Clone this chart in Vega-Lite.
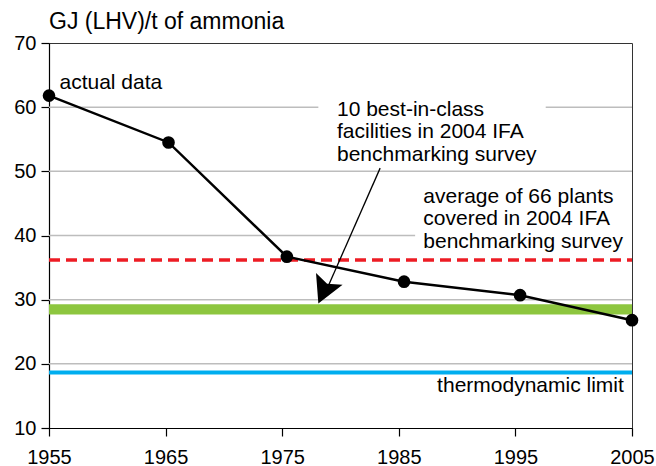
{
  "$schema": "https://vega.github.io/schema/vega-lite/v6.json",
  "width": 583,
  "height": 385,
  "autosize": {"type": "none"},
  "padding": {"left": 49, "top": 43, "right": 24, "bottom": 38},
  "title": {"text": "GJ (LHV)/t of ammonia", "anchor": "start", "frame": "group", "fontSize": 23, "fontWeight": "normal", "font": "Liberation Sans", "color": "#000000", "offset": -1},
  "config": {
    "view": {"stroke": "#333333", "strokeWidth": 1},
    "font": "Liberation Sans",
    "axis": {"labelFont": "Liberation Sans", "labelFontSize": 20, "labelColor": "#000000", "domainColor": "#000000", "tickColor": "#000000", "tickSize": 8, "grid": false, "title": null, "domainWidth": 1.2, "tickWidth": 1.2}
  },
  "datasets": {
    "series": [
      {"year": 1955, "value": 61.8},
      {"year": 1965.25, "value": 54.5},
      {"year": 1975.4, "value": 36.7},
      {"year": 1985.45, "value": 32.8},
      {"year": 1995.4, "value": 30.7},
      {"year": 2005, "value": 26.8}
    ],
    "grid": [
      {"y": 60, "from": 1955, "to": 1978.1},
      {"y": 60, "from": 1997.6, "to": 2005},
      {"y": 50, "from": 1955, "to": 2005},
      {"y": 40, "from": 1955, "to": 1986.4},
      {"y": 30, "from": 1955, "to": 2005},
      {"y": 20, "from": 1955, "to": 2005}
    ],
    "refs": [
      {"name": "average", "value": 36.2, "from": 1955, "to": 2005},
      {"name": "limit", "value": 18.65, "from": 1955, "to": 2005}
    ],
    "band": [
      {"name": "best", "low": 27.7, "high": 29.3, "from": 1955, "to": 2005}
    ],
    "arrow": [
      {"x1": 1983.4, "y1": 50.5, "x2": 1978.8, "y2": 31.5, "tipx": 1978.1, "tipy": 29.4}
    ],
    "labels": [
      {"x": 1955.9, "y": 63.8, "text": "actual data"},
      {"x": 1979.7, "y": 59.6, "text": "10 best-in-class"},
      {"x": 1979.7, "y": 56.1, "text": "facilities in 2004 IFA"},
      {"x": 1979.7, "y": 52.6, "text": "benchmarking survey"},
      {"x": 1987.1, "y": 46.0, "text": "average of 66 plants"},
      {"x": 1987.1, "y": 42.5, "text": "covered in 2004 IFA"},
      {"x": 1987.1, "y": 39.0, "text": "benchmarking survey"}
    ],
    "rightLabels": [
      {"x": 2004.3, "y": 16.5, "text": "thermodynamic limit"}
    ]
  },
  "layer": [
    {
      "data": {"name": "grid"},
      "mark": {"type": "rule", "color": "#bdbdbd", "strokeWidth": 1.5},
      "encoding": {
        "x": {"field": "from", "type": "quantitative", "scale": {"domain": [1955, 2005], "nice": false, "zero": false}, "axis": {"values": [1955, 1965, 1975, 1985, 1995, 2005], "format": "d", "labelFlush": false, "labelPadding": 11}},
        "x2": {"field": "to"},
        "y": {"field": "y", "type": "quantitative", "scale": {"domain": [10, 70], "nice": false, "zero": false}, "axis": {"values": [10, 20, 30, 40, 50, 60, 70], "labelPadding": 5}}
      }
    },
    {
      "data": {"name": "band"},
      "mark": {"type": "rect", "color": "#8dc63f"},
      "encoding": {
        "x": {"field": "from", "type": "quantitative"},
        "x2": {"field": "to"},
        "y": {"field": "low", "type": "quantitative"},
        "y2": {"field": "high"}
      }
    },
    {
      "data": {"name": "refs"},
      "transform": [{"filter": "datum.name === 'average'"}],
      "mark": {"type": "rule", "color": "#ed1c24", "strokeWidth": 3.5, "strokeDash": [11, 6]},
      "encoding": {
        "x": {"field": "from", "type": "quantitative"},
        "x2": {"field": "to"},
        "y": {"field": "value", "type": "quantitative"}
      }
    },
    {
      "data": {"name": "refs"},
      "transform": [{"filter": "datum.name === 'limit'"}],
      "mark": {"type": "rule", "color": "#00aeef", "strokeWidth": 4},
      "encoding": {
        "x": {"field": "from", "type": "quantitative"},
        "x2": {"field": "to"},
        "y": {"field": "value", "type": "quantitative"}
      }
    },
    {
      "data": {"name": "series"},
      "mark": {"type": "line", "color": "#000000", "strokeWidth": 2.5, "clip": false},
      "encoding": {
        "x": {"field": "year", "type": "quantitative"},
        "y": {"field": "value", "type": "quantitative"}
      }
    },
    {
      "data": {"name": "series"},
      "mark": {"type": "point", "shape": "circle", "filled": true, "color": "#000000", "size": 160, "opacity": 1, "clip": false},
      "encoding": {
        "x": {"field": "year", "type": "quantitative"},
        "y": {"field": "value", "type": "quantitative"}
      }
    },
    {
      "data": {"name": "arrow"},
      "mark": {"type": "rule", "color": "#000000", "strokeWidth": 1.3},
      "encoding": {
        "x": {"field": "x1", "type": "quantitative"},
        "y": {"field": "y1", "type": "quantitative"},
        "x2": {"field": "x2"},
        "y2": {"field": "y2"}
      }
    },
    {
      "data": {"name": "arrow"},
      "mark": {"type": "point", "shape": "M0,0L-0.54,-1L0,-0.8L0.54,-1Z", "filled": true, "color": "#000000", "size": 2900, "angle": 24, "opacity": 1, "strokeWidth": 0},
      "encoding": {
        "x": {"field": "tipx", "type": "quantitative"},
        "y": {"field": "tipy", "type": "quantitative"}
      }
    },
    {
      "data": {"name": "labels"},
      "mark": {"type": "text", "font": "Liberation Sans", "fontSize": 21, "color": "#000000", "baseline": "middle", "align": "left"},
      "encoding": {
        "x": {"field": "x", "type": "quantitative"},
        "y": {"field": "y", "type": "quantitative"},
        "text": {"field": "text"}
      }
    },
    {
      "data": {"name": "rightLabels"},
      "mark": {"type": "text", "font": "Liberation Sans", "fontSize": 21, "color": "#000000", "baseline": "middle", "align": "right"},
      "encoding": {
        "x": {"field": "x", "type": "quantitative"},
        "y": {"field": "y", "type": "quantitative"},
        "text": {"field": "text"}
      }
    }
  ]
}
